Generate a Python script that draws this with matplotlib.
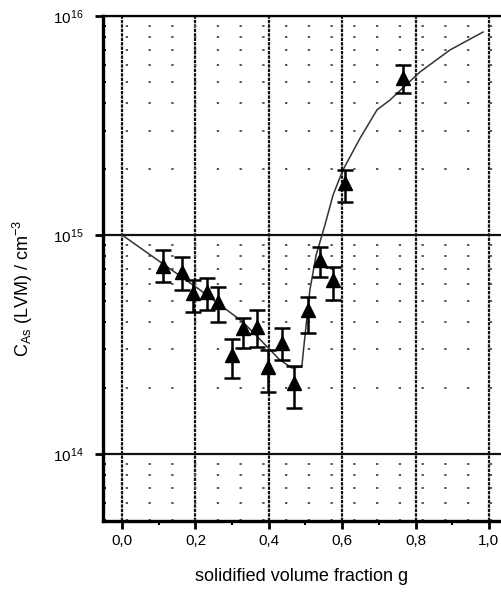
import numpy as np
import matplotlib
matplotlib.use('Agg')
import matplotlib.pyplot as plt
from matplotlib.ticker import FixedLocator, LogLocator, NullFormatter

plt.rcParams['font.family'] = ['Liberation Sans', 'DejaVu Sans']
plt.rcParams['mathtext.default'] = 'regular'

# measured points (solidified fraction g, C_As in cm^-3) with error bar ends
g_data = [0.112, 0.163, 0.193, 0.231, 0.262, 0.300, 0.330, 0.368,
          0.398, 0.436, 0.469, 0.507, 0.540, 0.575, 0.608, 0.766]
c_data = [7.22e14, 6.78e14, 5.43e14, 5.49e14, 4.94e14, 2.83e14, 3.76e14, 3.80e14,
          2.49e14, 3.21e14, 2.11e14, 4.55e14, 7.69e14, 6.24e14, 1.73e15, 5.21e15]
c_high = [8.55e14, 7.94e14, 6.23e14, 6.37e14, 5.79e14, 3.35e14, 4.18e14, 4.55e14,
          2.98e14, 3.76e14, 2.52e14, 5.21e14, 8.82e14, 7.15e14, 1.98e15, 5.97e15]
c_low = [6.10e14, 5.61e14, 4.45e14, 4.55e14, 4.01e14, 2.22e14, 3.05e14, 3.08e14,
         1.92e14, 2.69e14, 1.62e14, 3.57e14, 6.43e14, 5.05e14, 1.42e15, 4.45e15]

# model curve
g_curve = [0.0, 0.2125, 0.33, 0.43, 0.463, 0.49, 0.496, 0.512, 0.529, 0.553,
           0.575, 0.602, 0.649, 0.695, 0.730, 0.812, 0.894, 0.984]
c_curve = [1.0e15, 5.61e14, 4.0e14, 2.69e14, 2.47e14, 2.5e14, 3.15e14, 5.61e14, 8.1e14, 1.11e15,
           1.52e15, 1.98e15, 2.77e15, 3.73e15, 4.13e15, 5.55e15, 7.0e15, 8.45e15]

x_ticks = [0.0, 0.2, 0.4, 0.6, 0.8, 1.0]
x_ticklabels = ['0,0', '0,2', '0,4', '0,6', '0,8', '1,0']
y_ticks = [1e14, 1e15, 1e16]
y_ticklabels = [r'$10^{14}$', r'$10^{15}$', r'$10^{16}$']

fig = plt.figure(figsize=(5.01, 5.96), dpi=100)
ax = fig.add_axes([0.2056, 0.1258, 0.7944, 0.8473])

ax.set_yscale('log')
ax.set_xlim(-0.052, 1.033)
ax.set_ylim(4.94e13, 1e16)

# grid
for yt in y_ticks:
    ax.axhline(yt, color='#111111', lw=1.6, zorder=1)
for xt in x_ticks:
    ax.axvline(xt, color='#111111', lw=1.6, ls=(0, (1.5, 0.5)), zorder=1)
for dec in [1e13, 1e14, 1e15]:
    for m in range(2, 10):
        v = m * dec
        if 4.94e13 < v < 1e16:
            ax.axhline(v, color='#555555', lw=1.4, ls=(0, (1.2, 10.5)), zorder=1)

ax.plot(g_curve, c_curve, color='#333333', lw=1.1, zorder=2)

c_arr = np.array(c_data)
yerr = [c_arr - np.array(c_low), np.array(c_high) - c_arr]
ax.errorbar(g_data, c_data, yerr=yerr, fmt='^', color='black', ms=9.5,
            elinewidth=1.8, capsize=5.5, capthick=1.8, zorder=3)

ax.xaxis.set_major_locator(FixedLocator(x_ticks))
ax.set_xticklabels(x_ticklabels)
ax.xaxis.set_minor_locator(FixedLocator([0.1, 0.3, 0.5, 0.7, 0.9]))
ax.yaxis.set_major_locator(FixedLocator(y_ticks))
ax.set_yticklabels(y_ticklabels)
ax.yaxis.set_minor_locator(LogLocator(base=10, subs=np.arange(2, 10)))
ax.yaxis.set_minor_formatter(NullFormatter())

ax.tick_params(axis='both', which='major', direction='out', length=6, width=2,
               labelsize=11, color='black')
ax.tick_params(axis='x', which='minor', direction='out', length=3, width=1.5)
ax.tick_params(axis='y', which='minor', direction='in', length=2, width=1.5)
ax.tick_params(axis='y', which='major', pad=8)

ax.spines['left'].set_linewidth(2.4)
ax.spines['bottom'].set_linewidth(2.4)
ax.spines['top'].set_linewidth(1.6)
ax.spines['right'].set_visible(False)

ax.set_xlabel('solidified volume fraction g', fontsize=13, labelpad=14)
ax.set_ylabel(r'C$_{As}$ (LVM) / cm$^{-3}$', fontsize=13)
ax.yaxis.set_label_coords(-0.17, 0.46)

fig.savefig('out.png', dpi=100)
